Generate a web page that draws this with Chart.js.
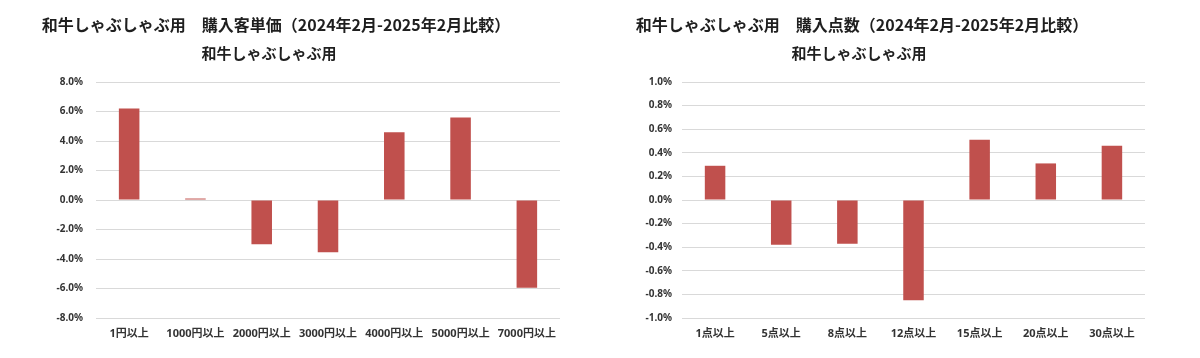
<!DOCTYPE html>
<html>
<head>
<meta charset="utf-8">
<script src="https://cdn.jsdelivr.net/npm/chart.js@4/dist/chart.umd.min.js"></script>
<style>
html, body { margin: 0; padding: 0; background: #fff; }
#wrap { display: flex; width: 1200px; height: 358px; }
canvas { display: block; }
</style>
</head>
<body>
<div id="wrap">
  <canvas id="left" width="600" height="358"></canvas>
  <canvas id="right" width="600" height="358"></canvas>
</div>
<script>
// 購入客単価
var priceTitle = '和牛しゃぶしゃぶ用　購入客単価（2024年2月-2025年2月比較）';
var priceSub = '和牛しゃぶしゃぶ用';
var priceLabels = ['1円以上', '1000円以上', '2000円以上', '3000円以上', '4000円以上', '5000円以上', '7000円以上'];
var priceValues = [6.2, 0.1, -3.0, -3.55, 4.6, 5.6, -5.95];
var priceTicks = [-8, -6, -4, -2, 0, 2, 4, 6, 8];

// 購入点数
var countTitle = '和牛しゃぶしゃぶ用　購入点数（2024年2月-2025年2月比較）';
var countSub = '和牛しゃぶしゃぶ用';
var countLabels = ['1点以上', '5点以上', '8点以上', '12点以上', '15点以上', '20点以上', '30点以上'];
var countValues = [0.29, -0.38, -0.37, -0.85, 0.51, 0.31, 0.46];
var countTicks = [-1.0, -0.8, -0.6, -0.4, -0.2, 0, 0.2, 0.4, 0.6, 0.8, 1.0];

var BAR_COLOR = '#c0504d';
var GRID_COLOR = '#d9d9d9';
var TEXT_COLOR = '#333333';
var TICK_FONT = "'Noto Sans', 'Noto Sans CJK JP', sans-serif";
var TITLE_FONT = "'Noto Sans CJK JP', sans-serif";

// タイトル描画（中心位置を固定）
var titlePlugin = {
    id: 'fixedTitles',
    afterDraw: function(chart, args, opts) {
        var ctx = chart.ctx;
        ctx.save();
        ctx.fillStyle = '#1f1f1f';
        ctx.textAlign = 'center';
        ctx.textBaseline = 'middle';
        ctx.font = 'bold 16px ' + TITLE_FONT;
        ctx.fillText(opts.text, opts.titleX, 25);
        ctx.font = 'bold 15px ' + TITLE_FONT;
        ctx.fillText(opts.sub, opts.subX, 53);
        ctx.restore();
    }
};

function makeChart(id, o) {
    return new Chart(document.getElementById(id), {
        type: 'bar',
        data: {
            labels: o.labels,
            datasets: [{
                data: o.values,
                backgroundColor: BAR_COLOR,
                borderWidth: 0,
                barPercentage: 0.31,
                categoryPercentage: 1
            }]
        },
        plugins: [titlePlugin],
        options: {
            responsive: false,
            animation: false,
            layout: { padding: { top: 82, right: o.padRight, bottom: 0, left: 0 } },
            plugins: {
                legend: { display: false },
                tooltip: { enabled: false },
                fixedTitles: { text: o.title, sub: o.sub, titleX: o.titleX, subX: o.subX }
            },
            scales: {
                x: {
                    grid: { display: false, drawTicks: false },
                    border: { display: false },
                    ticks: {
                        color: TEXT_COLOR,
                        font: { family: TICK_FONT, size: 11, weight: 'bold' },
                        padding: 9,
                        maxRotation: 0,
                        autoSkip: false
                    },
                    afterFit: function(axis) { axis.height = 40; }
                },
                y: {
                    min: o.ticks[0],
                    max: o.ticks[o.ticks.length - 1],
                    afterBuildTicks: function(axis) {
                        axis.ticks = o.ticks.map(function(v) { return { value: v }; });
                    },
                    grid: { color: GRID_COLOR, lineWidth: 1, drawTicks: false },
                    border: { display: false },
                    ticks: {
                        color: TEXT_COLOR,
                        font: { family: TICK_FONT, size: 10, weight: 'bold' },
                        padding: o.tickPad,
                        callback: function(v) { return v.toFixed(1) + '%'; }
                    },
                    afterFit: function(axis) { axis.width = o.axisWidth; }
                }
            }
        }
    });
}

makeChart('left', {
    labels: priceLabels, values: priceValues, ticks: priceTicks,
    title: priceTitle, sub: priceSub, titleX: 276, subX: 269,
    padRight: 40, axisWidth: 96, tickPad: 13
});
makeChart('right', {
    labels: countLabels, values: countValues, ticks: countTicks,
    title: countTitle, sub: countSub, titleX: 262, subX: 259,
    padRight: 55, axisWidth: 82, tickPad: 10
});
</script>
</body>
</html>
